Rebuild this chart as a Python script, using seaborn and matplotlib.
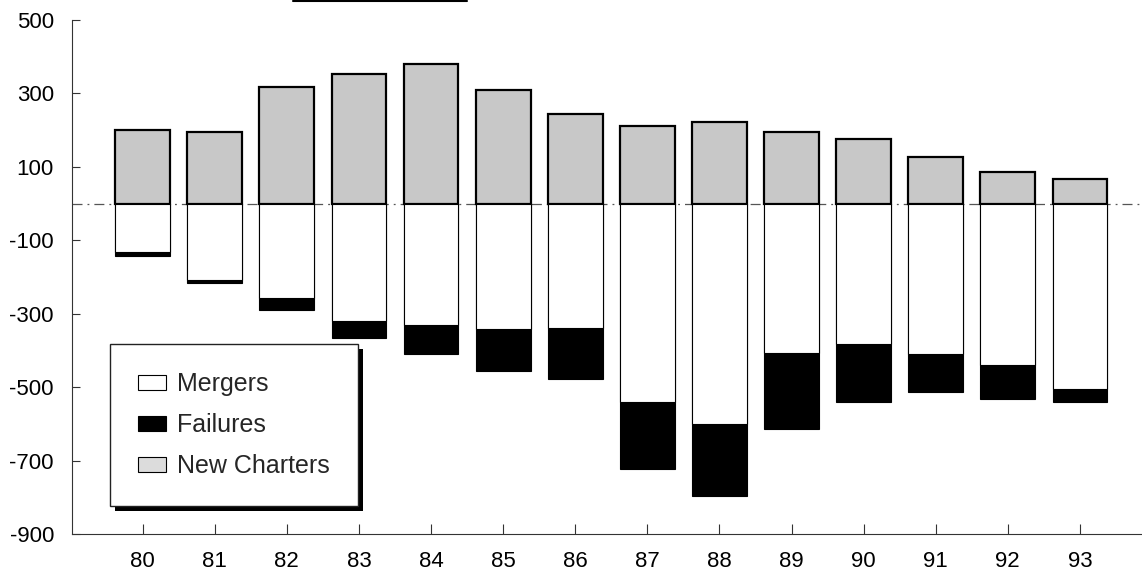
import numpy as np
import pandas as pd
import matplotlib
matplotlib.use("Agg")
import matplotlib.pyplot as plt
import seaborn as sns
from matplotlib.patches import Patch, Rectangle
from matplotlib.transforms import IdentityTransform
from matplotlib.lines import Line2D

years = ['80', '81', '82', '83', '84', '85', '86', '87', '88', '89', '90', '91', '92', '93']
new_charters = [201, 196, 317, 354, 381, 310, 243, 211, 221, 195, 177, 126, 87, 66]
mergers = [131, 208, 258, 321, 331, 341, 340, 541, 600, 407, 382, 410, 439, 504]
failures = [11, 7, 32, 45, 79, 116, 137, 182, 197, 208, 158, 102, 94, 36]
y_ticks = [500, 300, 100, -100, -300, -500, -700, -900]

sns.set_theme(style="white")
plt.rcParams['font.family'] = ['Liberation Sans', 'DejaVu Sans']

df = pd.DataFrame({
    'year': years,
    'charters': new_charters,
    'mergers_neg': -np.array(mergers),
    'total_neg': -(np.array(mergers) + np.array(failures)),
})

fig = plt.figure(figsize=(11.42, 5.74), dpi=100)
ax = fig.add_axes([72 / 1142, 1 - 534 / 574, 1080 / 1142, 514 / 574])

bw = 0.76
sns.barplot(data=df, x='year', y='charters', order=years, color='#c8c8c8', saturation=1,
            width=bw, edgecolor='black', linewidth=1.6, ax=ax, zorder=3)
sns.barplot(data=df, x='year', y='total_neg', order=years, color='black', saturation=1,
            width=bw, edgecolor='black', linewidth=0.8, ax=ax, zorder=3)
sns.barplot(data=df, x='year', y='mergers_neg', order=years, color='white', saturation=1,
            width=bw, edgecolor='black', linewidth=0.8, ax=ax, zorder=3)

ax.axhline(0, color='#555555', lw=0.9, ls=(0, (8, 4, 1.5, 4)), zorder=2)

ax.set_xlim(-0.98, 14.0)
ax.set_ylim(-900, 500)
ax.set_yticks(y_ticks)
ax.set_yticklabels([str(v) for v in y_ticks])
ax.set_xlabel('')
ax.set_ylabel('')

for s in ['top', 'right']:
    ax.spines[s].set_visible(False)
for s in ['left', 'bottom']:
    ax.spines[s].set_visible(True)
    ax.spines[s].set_color('#333333')
    ax.spines[s].set_linewidth(0.8)

ax.tick_params(axis='y', direction='in', length=6, width=0.8, color='#333333',
               labelsize=16, pad=13, labelcolor='black', left=True)
ax.tick_params(axis='x', direction='in', length=7, width=0.8, color='#333333',
               labelsize=16, pad=12, labelcolor='black', bottom=True)
ax.grid(False)

handles = [
    Patch(facecolor='white', edgecolor='black', linewidth=0.8, label='Mergers'),
    Patch(facecolor='black', edgecolor='black', linewidth=0.8, label='Failures'),
    Patch(facecolor='#dcdcdc', edgecolor='black', linewidth=0.8, label='New Charters'),
]
leg = ax.legend(handles=handles, loc='upper left',
                bbox_to_anchor=(110 / 1142, 1 - 344 / 574), bbox_transform=fig.transFigure,
                borderaxespad=0, fontsize=18, frameon=True, fancybox=False,
                handlelength=1.1, handleheight=0.55, handletextpad=0.45,
                labelspacing=0.68, borderpad=1.12)
leg.get_frame().set_edgecolor('#222222')
leg.get_frame().set_linewidth(1.0)
leg.get_frame().set_facecolor('white')
leg.get_frame().set_alpha(1)
leg.set_zorder(6)

fig.canvas.draw()
bb = leg.get_window_extent()
ax.add_patch(Rectangle((bb.x0 + 5, bb.y0 - 5), bb.width, bb.height, transform=IdentityTransform(),
                       facecolor='black', edgecolor='none', zorder=5.5, clip_on=False))

# faint scan artifact line at the very top
fig.add_artist(Line2D([293 / 1142, 467 / 1142], [1 - 1 / 574, 1 - 1 / 574],
                      transform=fig.transFigure, color='black', lw=1.5))

fig.savefig('out.png', dpi=100)
